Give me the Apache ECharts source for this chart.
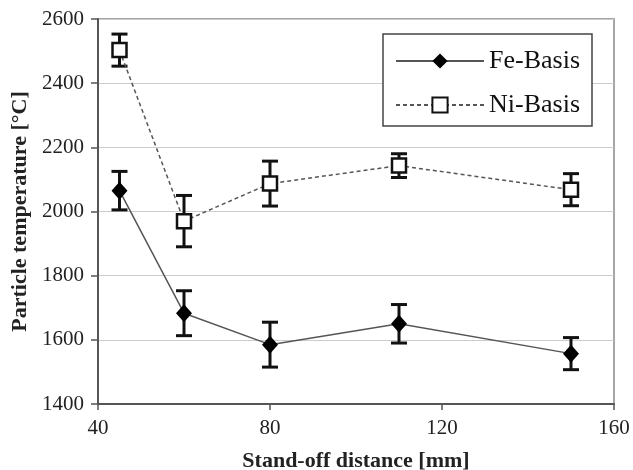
<!DOCTYPE html>
<html>
<head>
<meta charset="utf-8">
<script src="https://cdn.jsdelivr.net/npm/echarts@6/dist/echarts.min.js"></script>
<style>
  html, body { margin: 0; padding: 0; background: #fff; }
  #chart { width: 633px; height: 470px; }
</style>
</head>
<body>
<div id="chart"></div>
<script>
// stand-off distance [mm]
const distances = [45, 60, 80, 110, 150];
// particle temperature [°C] and error (+/-)
const feTemp = [2065, 1683, 1585, 1650, 1557];
const feErr = [60, 70, 70, 60, 50];
const niTemp = [2503, 1970, 2087, 2143, 2068];
const niErr = [50, 80, 70, 37, 50];

const serif = 'Liberation Serif';

const pairs = (ys) => distances.map((x, i) => [x, ys[i]]);
const bars = (ys, errs) => distances.map((x, i) => [x, ys[i] - errs[i], ys[i] + errs[i]]);

function renderErr(params, api) {
  const x = api.value(0);
  const lo = api.coord([x, api.value(1)]);
  const hi = api.coord([x, api.value(2)]);
  const w = 8;
  const st = { stroke: '#111', lineWidth: 3 };
  return {
    type: 'group',
    children: [
      { type: 'line', shape: { x1: hi[0], y1: hi[1], x2: lo[0], y2: lo[1] }, style: st },
      { type: 'line', shape: { x1: hi[0] - w, y1: hi[1], x2: hi[0] + w, y2: hi[1] }, style: st },
      { type: 'line', shape: { x1: lo[0] - w, y1: lo[1], x2: lo[0] + w, y2: lo[1] }, style: st }
    ]
  };
}

const chart = echarts.init(document.getElementById('chart'));
chart.setOption({
  animation: false,
  backgroundColor: '#fff',
  textStyle: { fontFamily: serif },
  grid: {
    left: 98, right: 19, top: 19, bottom: 66,
    outerBoundsMode: 'none',
    show: true, borderColor: '#888', borderWidth: 1.5
  },
  legend: {
    data: ['Fe-Basis', 'Ni-Basis'],
    orient: 'vertical',
    left: 383, top: 34,
    width: 214,
    padding: [14, 12, 8, 12],
    itemGap: 18,
    itemWidth: 88, itemHeight: 19,
    backgroundColor: '#fff',
    borderColor: '#444', borderWidth: 1.5,
    textStyle: { fontFamily: serif, fontSize: 26, color: '#111' }
  },
  xAxis: {
    type: 'value',
    min: 40, max: 160, interval: 40,
    name: 'Stand-off distance [mm]',
    nameLocation: 'middle', nameGap: 46,
    nameTextStyle: { fontFamily: serif, fontSize: 22, fontWeight: 'bold', color: '#222' },
    axisLine: { lineStyle: { color: '#555', width: 2 } },
    axisTick: { length: 6, lineStyle: { color: '#555', width: 1.5 } },
    axisLabel: { fontFamily: serif, fontSize: 21, color: '#222', margin: 14 },
    splitLine: { show: false }
  },
  yAxis: {
    type: 'value',
    min: 1400, max: 2600, interval: 200,
    name: 'Particle temperature [°C]',
    nameLocation: 'middle', nameGap: 66,
    nameTextStyle: { fontFamily: serif, fontSize: 22, fontWeight: 'bold', color: '#222' },
    axisLine: { show: true, lineStyle: { color: '#555', width: 2 } },
    axisTick: { show: true, length: 7, lineStyle: { color: '#555', width: 1.5 } },
    axisLabel: { fontFamily: serif, fontSize: 21, color: '#222', margin: 14, formatter: (v) => String(v) },
    splitLine: { lineStyle: { color: '#ccc', width: 1.2 } }
  },
  series: [
    {
      type: 'custom', renderItem: renderErr, z: 2,
      data: bars(feTemp, feErr), silent: true
    },
    {
      type: 'custom', renderItem: renderErr, z: 2,
      data: bars(niTemp, niErr), silent: true
    },
    {
      name: 'Fe-Basis', type: 'line', z: 3,
      data: pairs(feTemp),
      symbol: 'diamond', symbolSize: [16, 18],
      itemStyle: { color: '#000' },
      lineStyle: { color: '#555', width: 1.5 }
    },
    {
      name: 'Ni-Basis', type: 'line', z: 3,
      data: pairs(niTemp),
      symbol: 'rect', symbolSize: 14,
      itemStyle: { color: '#fff', borderColor: '#111', borderWidth: 2.5 },
      lineStyle: { color: '#555', width: 1.5, type: [4, 3] }
    }
  ]
});
</script>
</body>
</html>
